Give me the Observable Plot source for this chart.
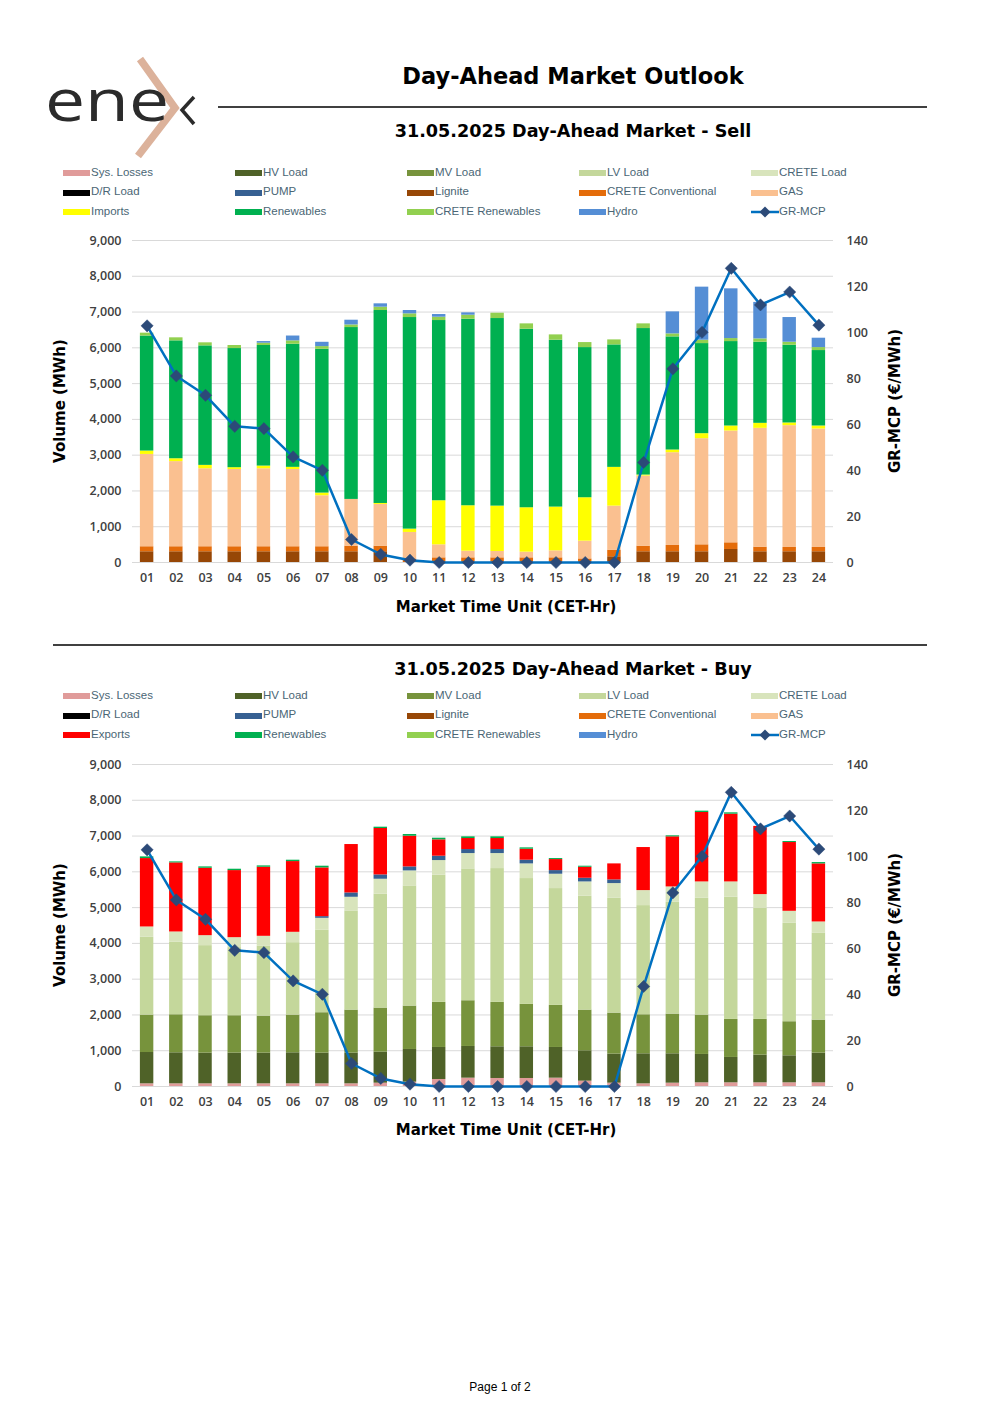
<!DOCTYPE html>
<html><head><meta charset="utf-8">
<script src="https://cdn.jsdelivr.net/npm/d3@7"></script>
<script src="https://cdn.jsdelivr.net/npm/@observablehq/plot@0.6"></script>
<style>
html,body{margin:0;padding:0;background:#fff;}
#page{position:relative;width:1000px;height:1415px;overflow:hidden;font-family:"DejaVu Sans",sans-serif;}
.abs{position:absolute;white-space:nowrap;}
.ctr{transform:translate(-50%,-50%);}
.title{font-weight:bold;font-size:22.5px;color:#000;}
.sub{font-weight:bold;font-size:17.6px;color:#000;}
.axt{font-weight:bold;font-size:15px;color:#000;}
.lg{font-family:"Liberation Sans",Arial,sans-serif;font-size:11.5px;color:#4a6675;}
.hr{position:absolute;height:1.5px;background:#404040;}
</style></head><body>
<div id="page"></div>
<script>
const hours = ["01","02","03","04","05","06","07","08","09","10","11","12","13","14","15","16","17","18","19","20","21","22","23","24"];
const mcp = [102.9,81.1,72.7,59.2,58.2,45.9,40.1,10.0,3.5,1.0,0,0,0,0,0,0,0,43.5,84.2,100.1,127.9,112.0,117.6,103.2];

// Sell side (MWh)
const sellLignite     = [300,300,300,300,300,300,300,300,300,0,0,0,0,0,0,0,160,300,300,300,364,300,300,300];
const sellCreteConv   = [140,140,140,140,140,140,140,157,157,100,130,130,130,130,130,100,185,157,176,194,186,129,120,120];
const sellGas         = [2580,2380,2180,2160,2180,2160,1425,1306,1166,740,364,187,178,159,196,497,1231,1959,2593,2967,3125,3321,3405,3311];
const sellImports     = [95,80,95,50,75,60,75,0,27,93,1232,1269,1268,1241,1223,1213,1083,28,75,140,140,140,75,84];
const sellRenewables  = [3215,3295,3340,3330,3370,3440,4020,4804,5393,5914,5037,5214,5243,4990,4664,4197,3423,4095,3162,2518,2360,2267,2173,2109];
const sellCreteRen    = [80,85,85,85,65,95,75,73,93,103,93,112,149,150,149,140,140,131,84,94,84,93,84,83];
const sellHydro       = [0,0,0,0,45,135,120,132,94,93,75,66,0,0,0,0,0,0,615,1483,1390,1020,690,262];

// Buy side (MWh)
const buySysLosses    = [75,75,75,75,75,75,75,75,93,121,196,233,224,224,233,149,93,75,93,103,103,103,103,103];
const buyHV           = [875,867,858,858,858,867,858,858,868,914,895,886,886,886,858,849,812,839,821,793,709,774,755,830];
const buyMV           = [1046,1063,1045,1045,1035,1054,1129,1203,1231,1213,1260,1278,1241,1185,1176,1138,1147,1091,1110,1100,1063,998,952,923];
const buyLV           = [2174,2025,1959,1903,1950,2024,2304,2771,3181,3358,3554,3685,3740,3517,3265,3181,3209,3051,3125,3265,3414,3106,2752,2435];
const buyCrete        = [289,289,279,279,280,290,335,382,420,420,410,429,420,410,401,401,411,420,429,457,429,383,335,308];
const buyPump         = [0,0,0,0,0,0,47,121,121,112,122,112,112,103,102,103,102,0,0,0,0,0,0,0];
const buyExports      = [1912,1931,1884,1875,1931,1977,1362,1353,1297,858,457,308,308,307,308,308,448,1203,1400,1941,1894,1906,1922,1623];
const buyRenewables   = [47,28,38,38,37,38,47,0,37,47,46,47,47,38,28,28,0,0,28,37,37,0,28,37];

const legendNames = ["Sys. Losses","HV Load","MV Load","LV Load","CRETE Load","D/R Load","PUMP","Lignite","CRETE Conventional","GAS","Imports","Renewables","CRETE Renewables","Hydro","GR-MCP"];
const legendNamesBuy = ["Sys. Losses","HV Load","MV Load","LV Load","CRETE Load","D/R Load","PUMP","Lignite","CRETE Conventional","GAS","Exports","Renewables","CRETE Renewables","Hydro","GR-MCP"];
const yTicks = [0,1000,2000,3000,4000,5000,6000,7000,8000,9000];
const mcpTicks = [0,20,40,60,80,100,120,140];

const colorMap = {
  "Sys. Losses":"#e09b9a","HV Load":"#4f6228","MV Load":"#77933c","LV Load":"#c4d79b","CRETE Load":"#d8e4bc",
  "D/R Load":"#000000","PUMP":"#366092","Lignite":"#974706","CRETE Conventional":"#e46c0a","GAS":"#fac090",
  "Imports":"#ffff00","Exports":"#ff0000","Renewables":"#00b050","CRETE Renewables":"#92d050","Hydro":"#558ed5"
};

const page = document.getElementById("page");
function addDiv(cls, text, left, top, extra) {
  const d = document.createElement("div");
  d.className = "abs " + cls;
  d.textContent = text;
  d.style.left = left + "px"; d.style.top = top + "px";
  if (extra) Object.assign(d.style, extra);
  page.appendChild(d);
  return d;
}
function hline(x1, x2, y) {
  const d = document.createElement("div");
  d.className = "hr";
  d.style.left = x1 + "px"; d.style.width = (x2 - x1) + "px"; d.style.top = (y - 0.75) + "px";
  page.appendChild(d);
}

// logo
const ns = "http://www.w3.org/2000/svg";
const logo = document.createElementNS(ns, "svg");
logo.setAttribute("width", 170); logo.setAttribute("height", 115);
logo.style.position = "absolute"; logo.style.left = "40px"; logo.style.top = "50px";
logo.innerHTML = `
<polyline points="100,9 135,58 98,106" fill="none" stroke="#dcb29b" stroke-width="7.5"/>
<text x="5" y="71" font-family="Open Sans" font-weight="400" font-size="58" fill="#2b2b2b" textLength="124" lengthAdjust="spacingAndGlyphs">ene</text>
<polyline points="154,47 142,60 154,74" fill="none" stroke="#2b2b2b" stroke-width="3.5"/>`;
page.appendChild(logo);

addDiv("title ctr", "Day-Ahead Market Outlook", 573, 76);
hline(218, 927, 107);
addDiv("sub ctr", "31.05.2025  Day-Ahead Market - Sell", 573, 131);
hline(53, 927, 645);
addDiv("sub ctr", "31.05.2025  Day-Ahead Market - Buy", 573, 669);
addDiv("ctr", "Page 1 of 2", 500, 1387, {fontFamily:"Liberation Sans, Arial, sans-serif", fontSize:"12px", color:"#000"});

function legend(names, y0) {
  const cols = [63, 235, 407, 579, 751];
  const rows = [y0, y0 + 19.5, y0 + 39];
  names.forEach((n, i) => {
    const cx = cols[i % 5], cy = rows[Math.floor(i / 5)];
    if (n === "GR-MCP") {
      const s = document.createElementNS(ns, "svg");
      s.setAttribute("width", 28); s.setAttribute("height", 14);
      s.style.position = "absolute"; s.style.left = cx + "px"; s.style.top = (cy - 7) + "px";
      s.innerHTML = `<line x1="0" y1="7" x2="28" y2="7" stroke="#0070c0" stroke-width="2.5"/><path d="M14,1.5 L19.5,7 L14,12.5 L8.5,7Z" fill="#2c4a78"/>`;
      page.appendChild(s);
    } else {
      const sw = document.createElement("div");
      sw.style.position = "absolute"; sw.style.left = cx + "px"; sw.style.top = (cy - 3) + "px";
      sw.style.width = "27px"; sw.style.height = "6px"; sw.style.background = colorMap[n];
      page.appendChild(sw);
    }
    addDiv("lg", n, cx + 28, cy - 7.5);
  });
}
legend(legendNames, 173);
legend(legendNamesBuy, 696);

function chart(series, top, xTitleY) {
  const rows = [];
  series.forEach(s => s.values.forEach((v, i) => rows.push({hour: hours[i], key: s.name, value: v})));
  const names = series.map(s => s.name);
  const mcpRows = hours.map((h, i) => ({hour: h, mcp: mcp[i]}));
  const k = 9000 / 140;
  const plot = Plot.plot({
    width: 1000, height: 400,
    marginLeft: 132, marginRight: 167, marginTop: 15, marginBottom: 63,
    style: {fontFamily: "Open Sans", fontSize: "12.5px", fontWeight: 600, color: "#404040", background: "transparent"},
    x: {domain: hours, paddingInner: 0.54, paddingOuter: 0.27, round: false, axis: null},
    y: {domain: [0, 9000], axis: null},
    color: {domain: names, range: names.map(n => colorMap[n])},
    marks: [
      Plot.ruleY(yTicks, {stroke: "#d9d9d9", strokeWidth: 1}),
      Plot.barY(rows, {x: "hour", y: "value", fill: "key", order: names}),
      Plot.axisY(yTicks, {anchor: "left", tickSize: 0, tickPadding: 11, tickFormat: d3.format(","), fill: "#404040", label: null}),
      Plot.axisY(mcpTicks.map(v => v * k), {anchor: "right", tickSize: 0, tickPadding: 13, tickFormat: d => Math.round(d / k), fill: "#404040", label: null}),
      Plot.axisX({tickSize: 0, tickPadding: 11, fill: "#404040", label: null}),
      Plot.lineY(mcpRows, {x: "hour", y: d => d.mcp * k, stroke: "#0070c0", strokeWidth: 2.5}),
      Plot.dot(mcpRows, {x: "hour", y: d => d.mcp * k, symbol: "diamond2", r: 5.5, fill: "#2c4a78", stroke: "#2c4a78", strokeWidth: 0.5})
    ]
  });
  plot.style.position = "absolute"; plot.style.left = "0px"; plot.style.top = top + "px";
  page.appendChild(plot);
  addDiv("axt ctr", "Market Time Unit (CET-Hr)", 506, xTitleY);
  addDiv("axt ctr", "Volume (MWh)", 60, top + 176, {transform: "translate(-50%,-50%) rotate(-90deg)"});
  addDiv("axt ctr", "GR-MCP (€/MWh)", 895, top + 176, {transform: "translate(-50%,-50%) rotate(-90deg)"});
}

chart([
  {name: "Lignite", values: sellLignite},
  {name: "CRETE Conventional", values: sellCreteConv},
  {name: "GAS", values: sellGas},
  {name: "Imports", values: sellImports},
  {name: "Renewables", values: sellRenewables},
  {name: "CRETE Renewables", values: sellCreteRen},
  {name: "Hydro", values: sellHydro}
], 225, 607);

chart([
  {name: "Sys. Losses", values: buySysLosses},
  {name: "HV Load", values: buyHV},
  {name: "MV Load", values: buyMV},
  {name: "LV Load", values: buyLV},
  {name: "CRETE Load", values: buyCrete},
  {name: "PUMP", values: buyPump},
  {name: "Exports", values: buyExports},
  {name: "Renewables", values: buyRenewables}
], 749, 1130);
</script>
</body></html>
